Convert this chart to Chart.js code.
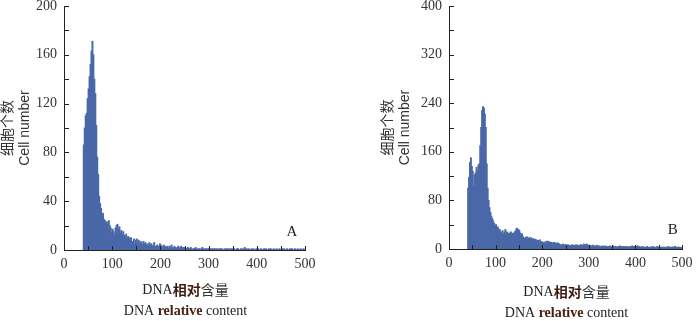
<!DOCTYPE html>
<html>
<head>
<meta charset="utf-8">
<script src="https://cdn.jsdelivr.net/npm/chart.js@4.4.0/dist/chart.umd.min.js"></script>
<style>
  html, body { margin: 0; padding: 0; background: #fff; }
  #wrap { position: relative; width: 700px; height: 321px; }
  canvas { position: absolute; top: 0; }
</style>
</head>
<body>
<div id="wrap">
  <canvas id="chartA" width="350" height="321" style="left:0"></canvas>
  <canvas id="chartB" width="350" height="321" style="left:350px"></canvas>
</div>
<script>
// === DATA ===
// histogram bins, width 2, first bin starts at 40
const binStart = 40
const binWidth = 2

const countsA = [
  86, 100, 110, 112, 124, 132, 142, 152, 163, 171,
  160, 140, 128, 102, 76, 62, 44, 38, 34, 28,
  30, 25, 24, 22, 23, 21, 24, 20, 18, 14,
  17, 15, 12, 18, 20, 21, 17, 19, 14, 16,
  13, 15, 12, 10, 13, 9, 11, 10, 8, 10,
  7, 6, 9, 5, 8, 9, 6, 8, 5, 7,
  6, 4, 7, 5, 6, 4, 5, 3, 6, 4,
  5, 3, 4, 6, 3, 2, 4, 3, 2, 5,
  4, 3, 2, 4, 2, 3, 2, 3, 1, 3,
  2, 4, 2, 1, 3, 2, 1, 2, 3, 1,
  2, 3, 1, 2, 1, 2, 1, 1, 2, 1,
  1, 2, 1, 0, 1, 1, 2, 1, 0, 1,
  1, 0, 1, 2, 1, 0, 1, 1, 0, 1,
  1, 1, 0, 1, 0, 1, 1, 0, 1, 0,
  1, 0, 1, 1, 0, 0, 1, 0, 1, 1,
  0, 1, 0, 1, 0, 1, 1, 0, 0, 1,
  1, 0, 0, 1, 0, 1, 0, 2, 0, 1,
  0, 1, 0, 0, 1, 0, 1, 0, 0, 1,
  0, 1, 0, 0, 1, 0, 0, 1, 0, 1,
  0, 0, 1, 0, 1, 0, 0, 1, 0, 0,
  1, 0, 0, 1, 0, 0, 1, 0, 1, 0,
  0, 1, 0, 0, 1, 0, 1, 0, 0, 1,
  0, 0, 1, 0, 0, 1, 0, 0, 1, 0
]

const countsB = [
  100, 118, 142, 150, 136, 128, 104, 122, 125, 134,
  128, 138, 140, 170, 200, 228, 234, 232, 222, 200,
  140, 100, 80, 68, 60, 54, 50, 46, 42, 38,
  40, 34, 36, 30, 32, 28, 26, 30, 24, 28,
  32, 26, 28, 24, 26, 25, 28, 24, 26, 24,
  28, 30, 34, 33, 32, 30, 26, 22, 25, 20,
  18, 16, 19, 20, 18, 17, 19, 16, 18, 15,
  17, 14, 16, 15, 13, 14, 12, 15, 11, 12,
  10, 11, 9, 12, 10, 13, 11, 12, 10, 11,
  9, 10, 11, 9, 10, 8, 10, 9, 8, 6,
  7, 6, 8, 5, 7, 6, 5, 7, 6, 5,
  6, 5, 7, 6, 5, 6, 7, 5, 6, 5,
  6, 7, 5, 6, 8, 7, 6, 8, 7, 6,
  5, 6, 4, 5, 6, 4, 5, 4, 6, 5,
  4, 5, 3, 4, 5, 4, 3, 5, 4, 3,
  4, 3, 5, 4, 3, 4, 5, 3, 4, 3,
  3, 4, 3, 5, 3, 4, 3, 4, 3, 4,
  3, 4, 3, 3, 4, 3, 5, 3, 4, 3,
  3, 4, 5, 3, 4, 3, 2, 4, 3, 3,
  2, 3, 4, 3, 2, 3, 3, 2, 4, 3,
  3, 2, 3, 4, 2, 3, 2, 3, 2, 3,
  2, 3, 2, 3, 2, 4, 2, 3, 2, 3,
  3, 2, 4, 3, 2, 3, 2, 3, 2, 2
]

const xTicks = [0, 100, 200, 300, 400, 500]
const yTicksA = [0, 40, 80, 120, 160, 200]
const yTicksB = [0, 80, 160, 240, 320, 400]

const yTitle = ['细胞个数', 'Cell number']

// === STYLE ===
const BAR_COLOR = '#4a68a8'
const AXIS_COLOR = '#222'
const TEXT_COLOR = '#333'
const SERIF = '"Liberation Serif", "Times New Roman", serif'
const CJK = '"Noto Sans CJK SC", sans-serif'

const xTitleLines = [
  [
    { t: 'DNA', font: '14px ' + SERIF, color: '#222' },
    { t: '相对', font: 'bold 14px ' + CJK, color: '#3d1a10' },
    { t: '含量', font: '14px ' + CJK, color: '#333' }
  ],
  [
    { t: 'DNA ', font: '14px ' + SERIF, color: '#222' },
    { t: 'relative', font: 'bold 14px ' + SERIF, color: '#4a2010' },
    { t: ' content', font: '14px ' + SERIF, color: '#222' }
  ]
]

const toPoints = counts => counts.map((c, i) => ({ x: binStart + binWidth * i + binWidth / 2, y: c }))

// inward tick marks, x title with mixed fonts, panel letter
const decor = {
  id: 'decor',
  afterDraw(chart, args, opts) {
    const ctx = chart.ctx
    const xs = chart.scales.x, ys = chart.scales.y
    const area = chart.chartArea
    ctx.save()
    ctx.strokeStyle = AXIS_COLOR
    ctx.lineWidth = 1
    ctx.beginPath()
    for (let v = opts.yMinor; v <= ys.max; v += opts.yMinor) {
      const y = Math.round(ys.getPixelForValue(v)) + 0.5
      ctx.moveTo(area.left, y)
      ctx.lineTo(area.left + 5, y)
    }
    for (let v = 50; v <= xs.max; v += 50) {
      const x = Math.round(xs.getPixelForValue(v)) + 0.5
      ctx.moveTo(x, area.bottom)
      ctx.lineTo(x, area.bottom - 4)
    }
    ctx.stroke()

    // x axis title, two lines
    const cx = (area.left + area.right) / 2 + 1
    ctx.textBaseline = 'middle'
    ctx.textAlign = 'left'
    xTitleLines.forEach((segs, li) => {
      let w = 0
      segs.forEach(s => { ctx.font = s.font; w += ctx.measureText(s.t).width })
      let x = cx - w / 2
      const y = area.bottom + opts.titleY[li]
      segs.forEach(s => {
        ctx.font = s.font
        ctx.fillStyle = s.color
        ctx.fillText(s.t, x, y)
        x += ctx.measureText(s.t).width
      })
    })

    // panel letter
    ctx.font = '15px ' + SERIF
    ctx.fillStyle = '#222'
    ctx.textAlign = 'center'
    ctx.fillText(opts.label, xs.getPixelForValue(opts.labelX), ys.getPixelForValue(opts.labelY))
    ctx.restore()
  }
}

function makeChart(id, counts, yTicks, box) {
  return new Chart(document.getElementById(id), {
    type: 'bar',
    data: {
      datasets: [{
        data: toPoints(counts),
        backgroundColor: BAR_COLOR,
        borderWidth: 0,
        barPercentage: 1,
        categoryPercentage: 1,
        inflateAmount: 0.5
      }]
    },
    options: {
      responsive: false,
      animation: false,
      devicePixelRatio: 1,
      layout: { padding: { left: box.padLeft, right: box.padRight, top: 6, bottom: 0 } },
      plugins: {
        legend: { display: false },
        tooltip: { enabled: false },
        decor: box.decor
      },
      scales: {
        x: {
          type: 'linear',
          min: 0, max: 500,
          offset: false,
          grid: { display: false, drawTicks: false },
          border: { display: true, color: AXIS_COLOR, width: 1 },
          ticks: { autoSkip: false, maxRotation: 0, padding: 6, color: TEXT_COLOR, font: { family: SERIF, size: 14 } },
          afterBuildTicks: s => { s.ticks = xTicks.map(v => ({ value: v })) },
          afterFit: s => { s.height = box.xAxisHeight; s.paddingLeft = 0; s.paddingRight = 0 }
        },
        y: {
          min: 0, max: yTicks[yTicks.length - 1],
          grid: { display: false, drawTicks: false },
          border: { display: true, color: AXIS_COLOR, width: 1 },
          ticks: { padding: 7, color: TEXT_COLOR, font: { family: SERIF, size: 14 } },
          afterBuildTicks: s => { s.ticks = yTicks.map(v => ({ value: v })) },
          afterFit: s => { s.width = box.yAxisWidth; s.paddingTop = 0; s.paddingBottom = 0 },
          title: {
            display: true,
            text: yTitle,
            color: TEXT_COLOR,
            padding: 0,
            font: { family: '"Liberation Sans Narrow", "Liberation Sans", "Noto Sans CJK SC", sans-serif', size: 14, lineHeight: 1.2 }
          }
        }
      }
    },
    plugins: [decor]
  })
}

makeChart('chartA', countsA, yTicksA, {
  padLeft: 0, padRight: 45, yAxisWidth: 64, xAxisHeight: 71,
  decor: { yMinor: 20, titleY: [40, 61], label: 'A', labelX: 473, labelY: 15 }
})

makeChart('chartB', countsB, yTicksB, {
  padLeft: 30, padRight: 18, yAxisWidth: 69, xAxisHeight: 72,
  decor: { yMinor: 40, titleY: [43, 64], label: 'B', labelX: 480, labelY: 31 }
})
</script>
</body>
</html>
